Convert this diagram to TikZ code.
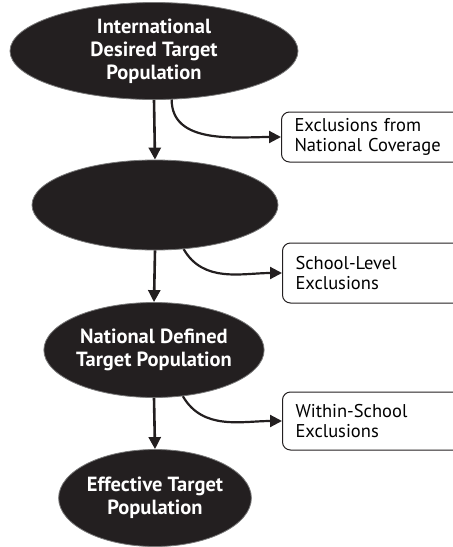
\documentclass[tikz,border=0pt]{standalone}
\usepackage{fontspec}
\setmainfont{PT Sans}
\usetikzlibrary{shapes.geometric,arrows.meta}
\definecolor{popblack}{RGB}{35, 31, 32}
\definecolor{popedge}{RGB}{120, 120, 120}

\tikzset{
  popnode/.style={ellipse, fill=popblack, draw=popedge, line width=0.8pt,
    text=white, font=\bfseries\fontsize{20.5}{23}\selectfont, align=center,
    inner sep=0pt},
  exclbox/.style={draw=popblack, line width=1pt, rounded corners=8pt,
    anchor=west, minimum width=185pt, text width=175pt, align=left,
    font=\fontsize{18.5}{20.5}\selectfont, inner sep=0pt},
  down/.style={line width=2.6pt, draw=popblack, -{Triangle[length=12pt,width=12pt]}},
  side/.style={line width=2.2pt, draw=popblack, -{Triangle[length=12pt,width=12pt]}}
}

\begin{document}
\begin{tikzpicture}[x=1pt, y=-1pt]
        \useasboundingbox (0,0) rectangle (453,547);

        \node[popnode, minimum width=288pt, minimum height=97pt] (intl) at (154,51)
          {International\\Desired Target\\Population};
        \node[popnode, minimum width=246pt, minimum height=90pt] (blank) at (155,205) {};
        \node[popnode, minimum width=211pt, minimum height=95pt] (natl) at (154,350)
          {National Defined\\Target Population};
        \node[popnode, minimum width=166pt, minimum height=97pt] (effe) at (155,498)
          {Effective Target\\Population};

        \node[exclbox, minimum height=50pt] (cover) at (281,137)
          {\hspace*{8pt}Exclusions from\\\hspace*{8pt}National Coverage};
        \node[exclbox, minimum height=60pt] (school) at (282,273)
          {\hspace*{8pt}School-Level\\\hspace*{8pt}Exclusions};
        \node[exclbox, minimum height=58pt] (within) at (282,421)
          {\hspace*{8pt}Within-School\\\hspace*{8pt}Exclusions};

        \draw[down] (intl.south) -- (blank.north);
        \draw[down] (blank.south) -- (natl.north);
        \draw[down] (natl.south) -- (effe.north);

        \draw[side] (intl.-70) to[out=-90, in=180] (cover.west);
        \draw[side] (blank.-57) to[out=-60, in=180] (school.west);
        \draw[side] (natl.-58) to[out=-60, in=180] (within.west);
      \end{tikzpicture}
\end{document}
